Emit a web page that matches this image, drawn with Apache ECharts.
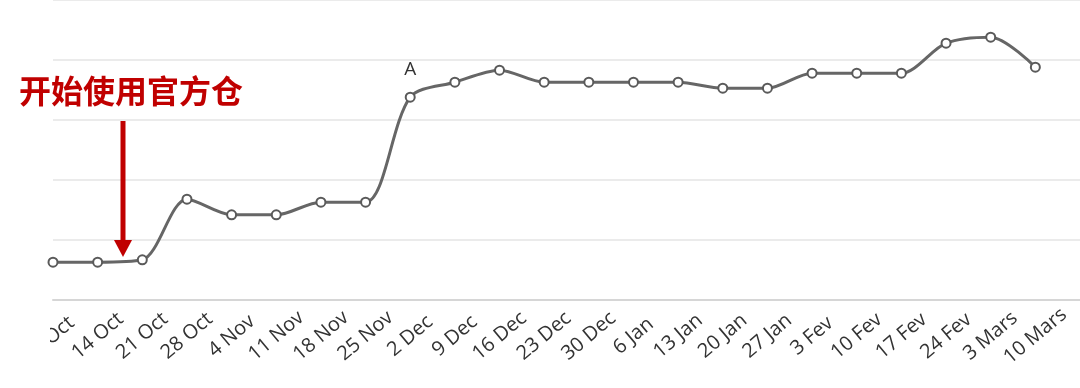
<!DOCTYPE html>
<html>
<head>
<meta charset="utf-8">
<style>html,body{margin:0;padding:0;background:#fff;}#c{width:1080px;height:388px;}</style>
<script src="https://cdn.jsdelivr.net/npm/echarts@6/dist/echarts.min.js"></script>
</head>
<body>
<div id="c"></div>
<script>
const categories = ['7 Oct','14 Oct','21 Oct','28 Oct','4 Nov','11 Nov','18 Nov','25 Nov','2 Dec','9 Dec','16 Dec','23 Dec','30 Dec','6 Jan','13 Jan','20 Jan','27 Jan','3 Fev','10 Fev','17 Fev','24 Fev','3 Mars','10 Mars',''];
const values = [0.63,0.63,0.67,1.68,1.42,1.42,1.63,1.63,3.38,3.63,3.83,3.63,3.63,3.63,3.63,3.53,3.53,3.78,3.78,3.78,4.28,4.38,3.88,null];
const pointLabels = ['','','','','','','','','A','','','','','','','','','','','','','','',''];
const annotationText = '开始使用官方仓';

const chart = echarts.init(document.getElementById('c'), null, {renderer:'canvas'});
const seriesData = values.map((v,i) => pointLabels[i] ? {value:v, label:{show:true, formatter:pointLabels[i], position:'top', distance:13, fontSize:19, color:'#333', fontFamily:'Open Sans'}} : v);

chart.setOption({
  animation:false,
  grid:{left:53, right:0, top:0, height:300, containLabel:false, outerBoundsMode:'none'},
  xAxis:{
    type:'category', data:categories, boundaryGap:false,
    axisLine:{show:true, lineStyle:{color:'#d6d6d6', width:2}},
    axisTick:{show:false},
    splitLine:{show:false},
    axisLabel:{interval:0, rotate:40, align:'center', verticalAlign:'middle', margin:36, hideOverlap:false,
      fontSize:20, color:'#333333', fontFamily:'Open Sans'}
  },
  yAxis:{
    type:'value', min:0, max:5, interval:1,
    axisLabel:{show:false}, axisLine:{show:false}, axisTick:{show:false},
    splitLine:{show:true, lineStyle:{color:'#ebebeb', width:2}}
  },
  series:[{
    type:'line', data:seriesData, smooth:0.3,
    symbol:'circle', symbolSize:9,
    lineStyle:{color:'#666666', width:3},
    itemStyle:{color:'#ffffff', borderColor:'#5a5a5a', borderWidth:2},
    label:{show:false}
  }],
  graphic:[
    {type:'rect', left:0, top:303, shape:{width:50, height:85}, style:{fill:'#fff'}, z:100},
    {type:'text', left:19, top:75, style:{text:annotationText, fill:'#c00000', font:'bold 32px "Noto Sans CJK SC"'}, z:100},
    {type:'line', shape:{x1:123, y1:121, x2:123, y2:244}, style:{stroke:'#c00000', lineWidth:5}, z:100},
    {type:'polygon', shape:{points:[[114,240],[132,240],[123,257]]}, style:{fill:'#c00000'}, z:100}
  ]
});
</script>
</body>
</html>
